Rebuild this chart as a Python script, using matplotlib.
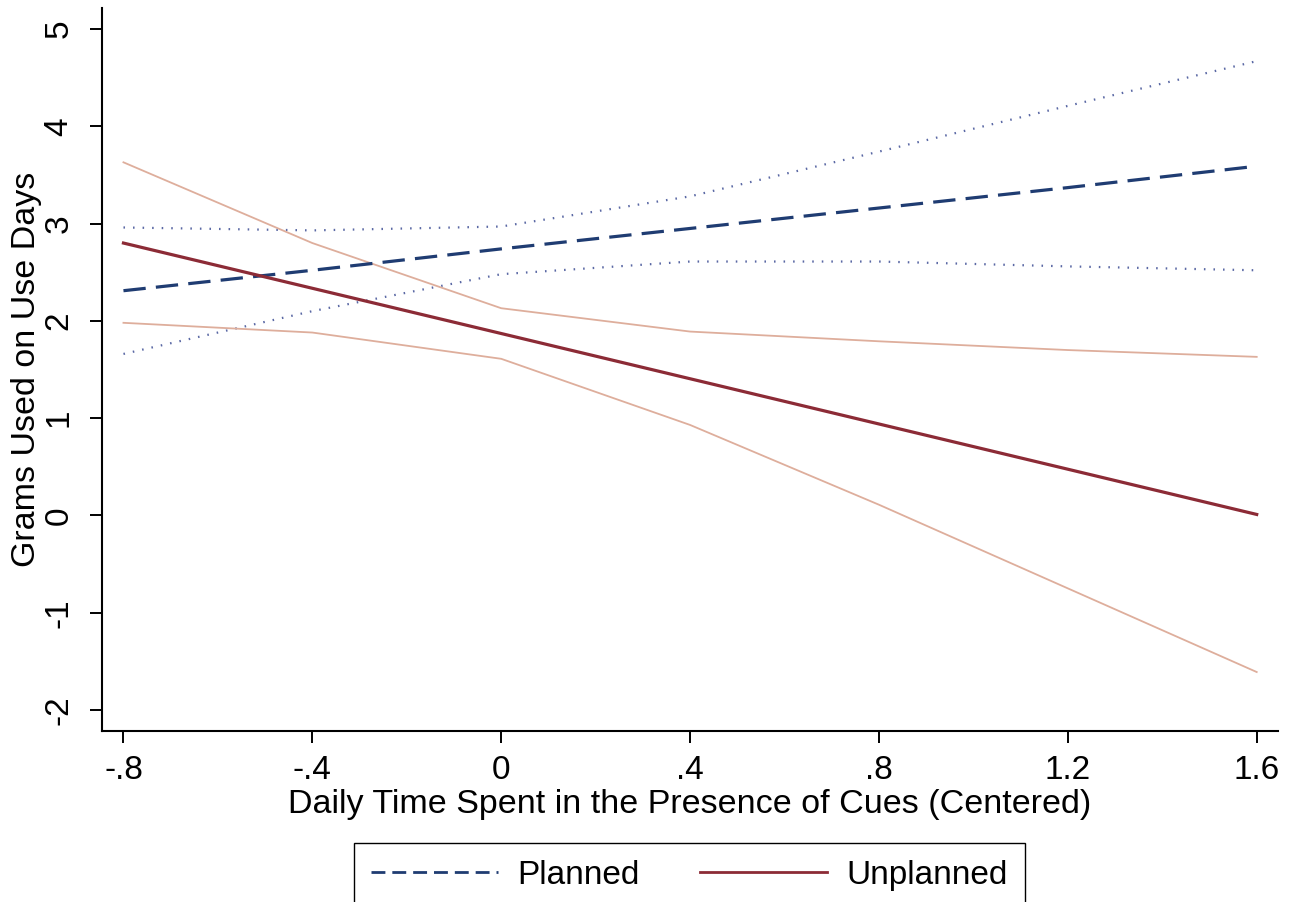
import matplotlib
matplotlib.use("Agg")
import matplotlib.pyplot as plt
from matplotlib.lines import Line2D

plt.rcParams["font.family"] = ["Liberation Sans", "DejaVu Sans"]
plt.rcParams["axes.unicode_minus"] = False  # plain hyphen minus, like the original

# ── Data ─────────────────────────────────────────────────────────────────────
cues = [-0.8, -0.4, 0.0, 0.4, 0.8, 1.2, 1.6]

planned = [2.31, 2.52, 2.74, 2.95, 3.16, 3.37, 3.59]
planned_hi = [2.96, 2.93, 2.97, 3.28, 3.74, 4.21, 4.67]
planned_lo = [1.66, 2.10, 2.48, 2.61, 2.61, 2.56, 2.52]

unplanned = [2.80, 2.335, 1.87, 1.405, 0.94, 0.475, 0.01]
unplanned_hi = [3.63, 2.80, 2.13, 1.89, 1.79, 1.70, 1.63]
unplanned_lo = [1.98, 1.88, 1.61, 0.93, 0.11, -0.75, -1.61]

x_ticks = [-0.8, -0.4, 0.0, 0.4, 0.8, 1.2, 1.6]
x_ticklabels = ["-.8", "-.4", "0", ".4", ".8", "1.2", "1.6"]
y_ticks = [-2, -1, 0, 1, 2, 3, 4, 5]

# ── Colours ──────────────────────────────────────────────────────────────────
NAVY = "#1f3c72"
DOT = "#5a68a4"
MAROON = "#8c2b36"
SALMON = "#deae9c"

fig = plt.figure(figsize=(12.99, 9.02), dpi=100)
ax = fig.add_axes([0.0785, 0.1896, 0.9053, 0.8015])

# confidence bands first, point estimates on top
ax.plot(cues, planned_hi, color=DOT, lw=1.6, linestyle=(0, (0.7, 3.6)), zorder=2)
ax.plot(cues, planned_lo, color=DOT, lw=1.6, linestyle=(0, (0.7, 3.6)), zorder=2)
ax.plot(cues, unplanned_hi, color=SALMON, lw=1.3, zorder=2)
ax.plot(cues, unplanned_lo, color=SALMON, lw=1.3, zorder=2)

ax.plot(cues, planned, color=NAVY, lw=2.3, dashes=(7, 3.2), zorder=3)
ax.plot(cues, unplanned, color=MAROON, lw=2.3, zorder=3)

ax.set_xlim(-0.8455, 1.645)
ax.set_ylim(-2.216, 5.216)
ax.set_xticks(x_ticks)
ax.set_xticklabels(x_ticklabels)
ax.set_yticks(y_ticks)
for lab in ax.get_yticklabels():
    lab.set_rotation(90)
    lab.set_va("center")

ax.tick_params(direction="out", length=8.6, width=1.4, labelsize=24, pad=9)
ax.tick_params(axis="y", pad=11)

ax.spines["top"].set_visible(False)
ax.spines["right"].set_visible(False)
ax.spines["left"].set_linewidth(1.5)
ax.spines["bottom"].set_linewidth(1.5)

ax.set_xlabel("Daily Time Spent in the Presence of Cues (Centered)", fontsize=24.5, labelpad=2)
ax.set_ylabel("Grams Used on Use Days", fontsize=24.5, labelpad=1.5)

handles = [
    Line2D([], [], color=NAVY, lw=2.0, dashes=(5, 2.5)),
    Line2D([], [], color=MAROON, lw=2.0),
]
fig.legend(handles, ["Planned", "Unplanned"], loc="upper center",
           bbox_to_anchor=(689.5 / 1299, 1 - 843 / 902), ncol=2, fontsize=24,
           frameon=True, fancybox=False, edgecolor="black", framealpha=1,
           handlelength=3.8, handletextpad=0.6, columnspacing=1.8,
           borderpad=0.5, borderaxespad=0)

fig.savefig("out.png", dpi=100)
